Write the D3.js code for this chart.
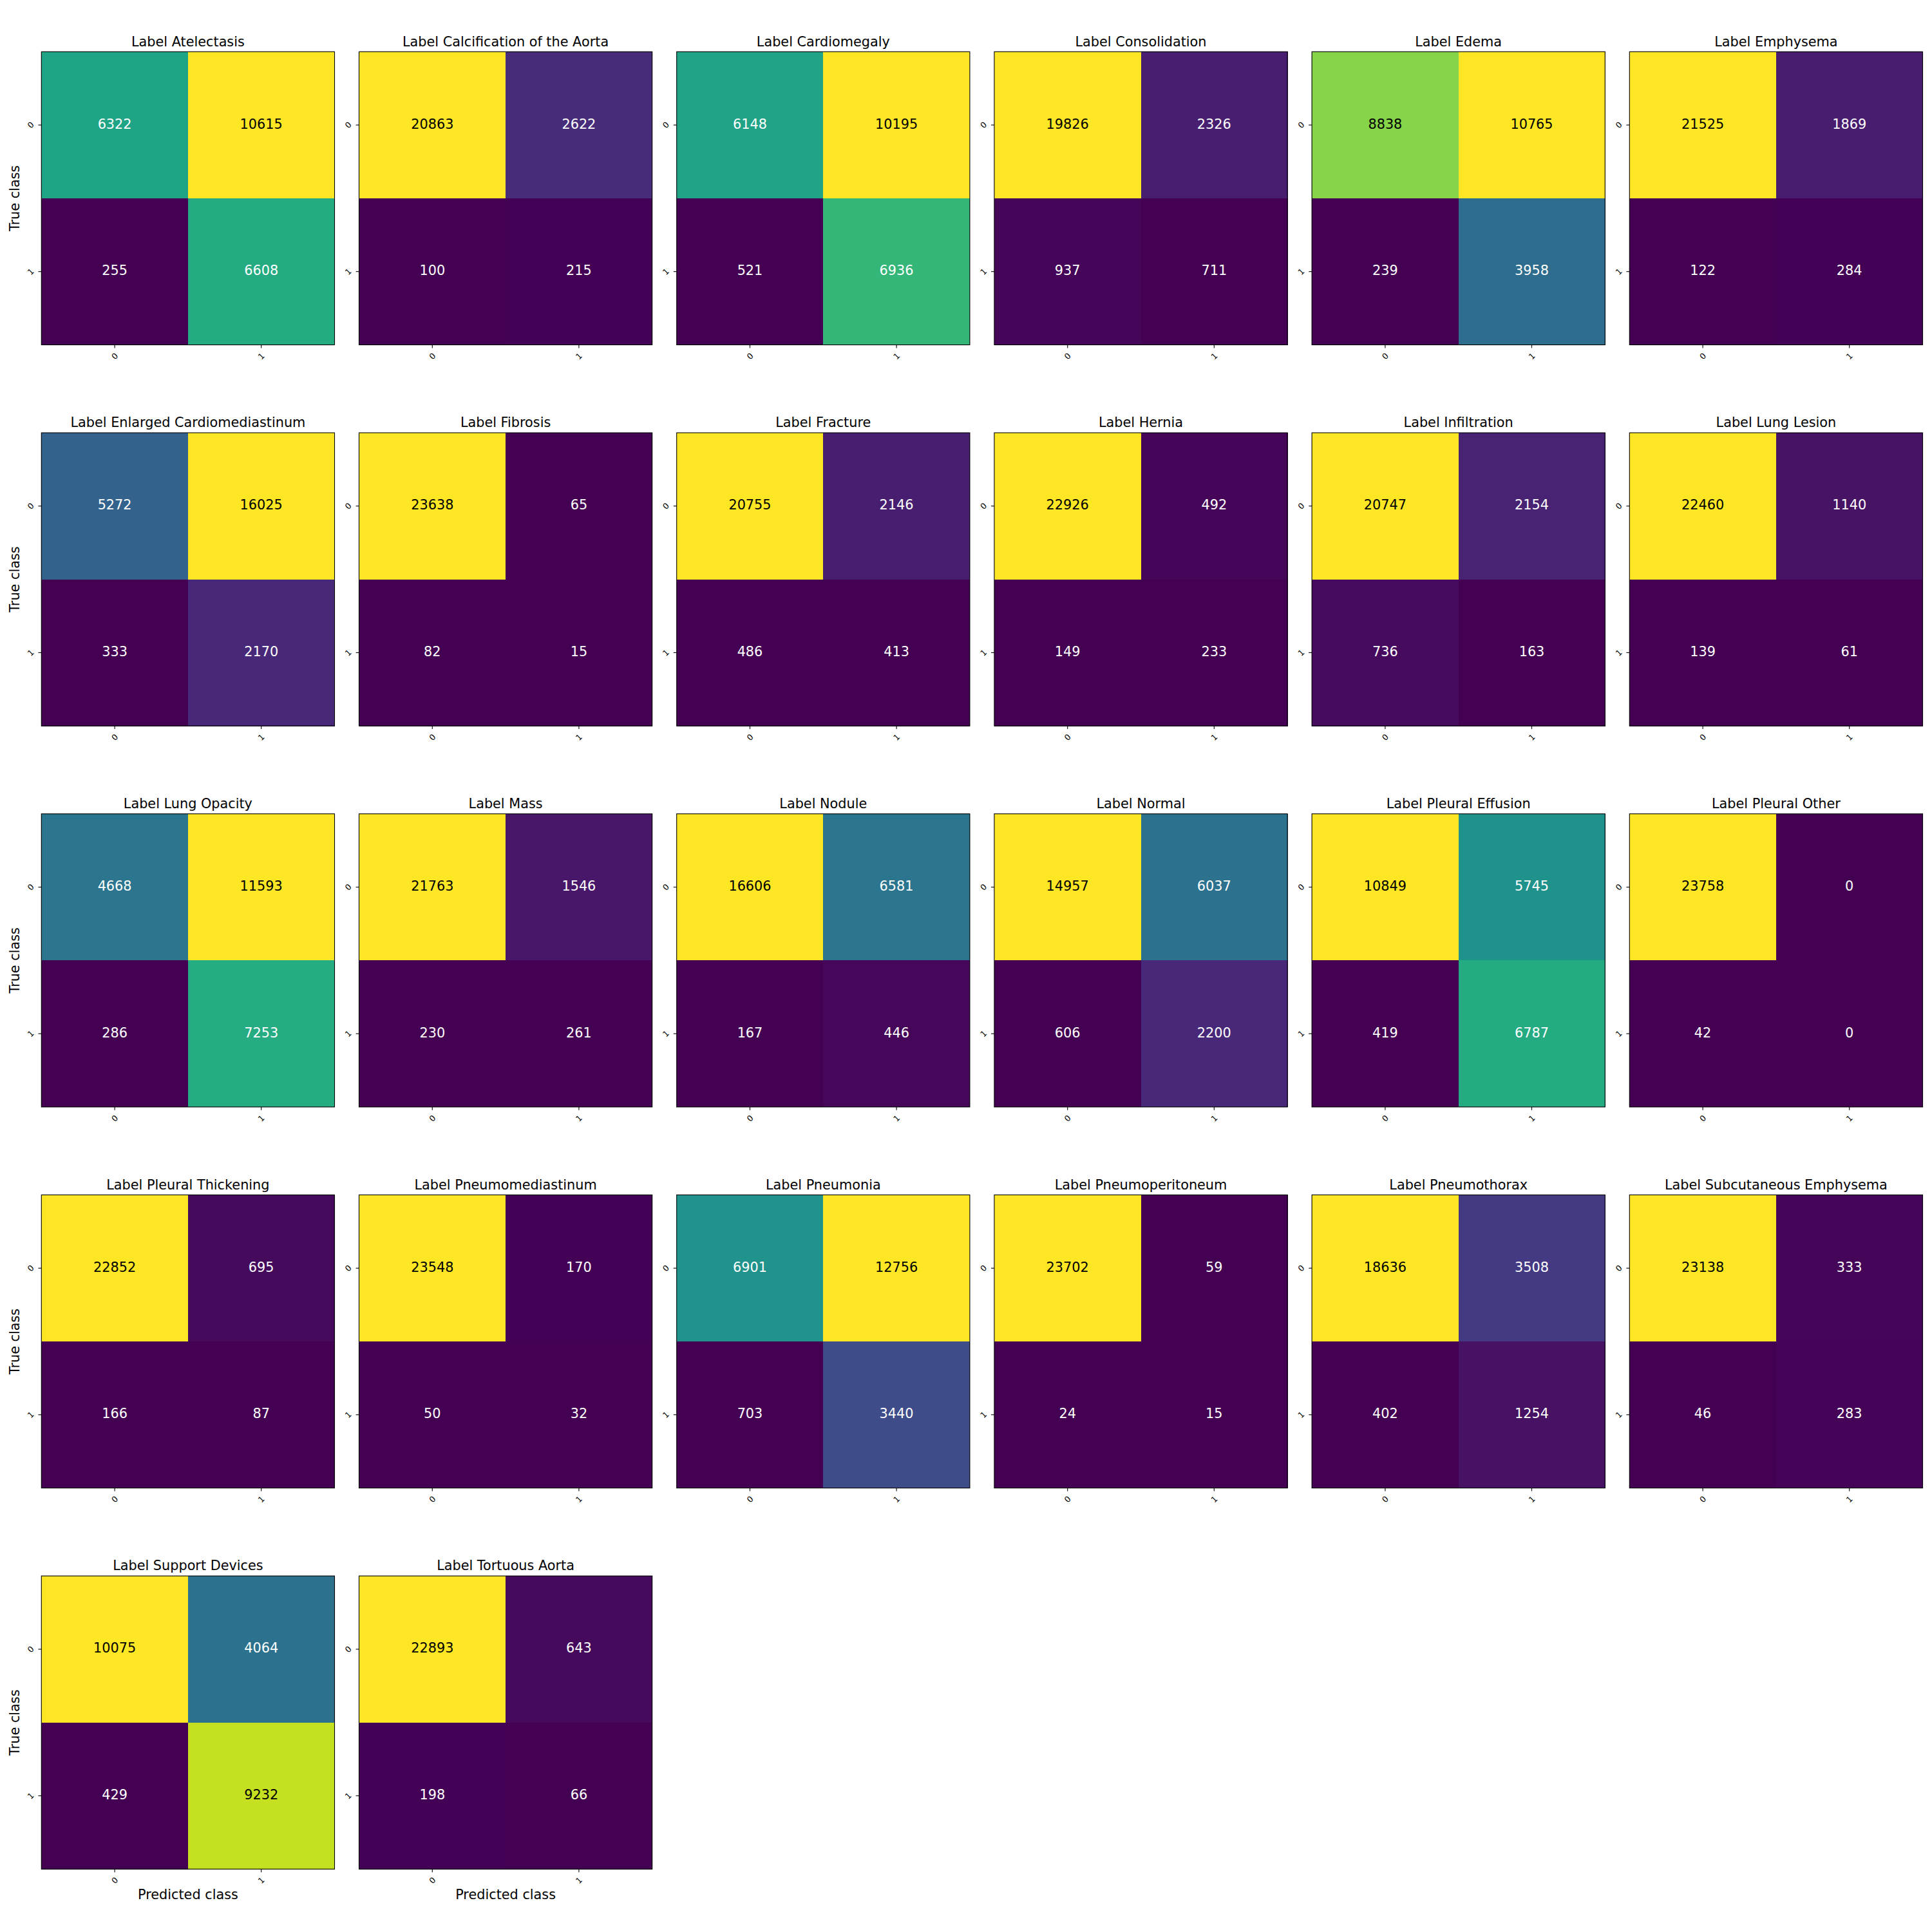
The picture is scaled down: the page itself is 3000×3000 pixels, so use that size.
<!DOCTYPE html>
<html>
<head>
<meta charset="utf-8">
<script src="https://cdn.jsdelivr.net/npm/d3@7"></script>
<style>
  html, body { margin: 0; padding: 0; background: #fff; }
  svg { display: block; font-family: "DejaVu Sans", sans-serif; }
</style>
</head>
<body>
<script>
// ---------- data ----------
const labels = [
  "Atelectasis", "Calcification of the Aorta", "Cardiomegaly", "Consolidation", "Edema", "Emphysema",
  "Enlarged Cardiomediastinum", "Fibrosis", "Fracture", "Hernia", "Infiltration", "Lung Lesion",
  "Lung Opacity", "Mass", "Nodule", "Normal", "Pleural Effusion", "Pleural Other",
  "Pleural Thickening", "Pneumomediastinum", "Pneumonia", "Pneumoperitoneum", "Pneumothorax", "Subcutaneous Emphysema",
  "Support Devices", "Tortuous Aorta"
];
// true 0 / predicted 0
const trueNeg  = [6322, 20863, 6148, 19826, 8838, 21525, 5272, 23638, 20755, 22926, 20747, 22460, 4668, 21763, 16606, 14957, 10849, 23758, 22852, 23548, 6901, 23702, 18636, 23138, 10075, 22893];
// true 0 / predicted 1
const falsePos = [10615, 2622, 10195, 2326, 10765, 1869, 16025, 65, 2146, 492, 2154, 1140, 11593, 1546, 6581, 6037, 5745, 0, 695, 170, 12756, 59, 3508, 333, 4064, 643];
// true 1 / predicted 0
const falseNeg = [255, 100, 521, 937, 239, 122, 333, 82, 486, 149, 736, 139, 286, 230, 167, 606, 419, 42, 166, 50, 703, 24, 402, 46, 429, 198];
// true 1 / predicted 1
const truePos  = [6608, 215, 6936, 711, 3958, 284, 2170, 15, 413, 233, 163, 61, 7253, 261, 446, 2200, 6787, 0, 87, 32, 3440, 15, 1254, 283, 9232, 66];
const classTicks = ["0", "1"];
const titlePrefix = "Label ";
const xLabelText = "Predicted class";
const yLabelText = "True class";

// ---------- layout ----------
const W = 3000, H = 3000;
const nCols = 6;
const nRows = Math.ceil(labels.length / nCols);
const x0 = 64.3, y0 = 80.3, dx = 493.2, dy = 591.7, size = 455.2;
const fs = 20.8, tickFs = 12.5, tickLen = 4.9, lw = 1.1;

const svg = d3.select("body").append("svg").attr("width", W).attr("height", H);
svg.append("rect").attr("width", W).attr("height", H).attr("fill", "#fff");

const band = d3.scaleBand().domain(classTicks).range([0, size]);

labels.forEach((lab, i) => {
  const c = i % nCols, r = Math.floor(i / nCols);
  const g = svg.append("g").attr("transform", `translate(${x0 + c * dx},${y0 + r * dy})`);
  const cells = [
    {t: "0", p: "0", v: trueNeg[i]},
    {t: "0", p: "1", v: falsePos[i]},
    {t: "1", p: "0", v: falseNeg[i]},
    {t: "1", p: "1", v: truePos[i]}
  ];
  const ext = d3.extent(cells, d => d.v);
  const dom = ext[0] === ext[1] ? [ext[0], ext[0] + 1] : ext;
  const color = d3.scaleSequential(d3.interpolateViridis).domain(dom);
  const norm = d3.scaleLinear().domain(dom).range([0, 1]);

  g.selectAll("rect.cell").data(cells).enter().append("rect")
    .attr("class", "cell")
    .attr("x", d => band(d.p))
    .attr("y", d => band(d.t))
    .attr("width", band.bandwidth() + 0.5)
    .attr("height", band.bandwidth() + 0.5)
    .attr("fill", d => color(d.v))
    .attr("shape-rendering", "crispEdges");

  g.selectAll("text.val").data(cells).enter().append("text")
    .attr("class", "val")
    .attr("x", d => band(d.p) + band.bandwidth() / 2)
    .attr("y", d => band(d.t) + band.bandwidth() / 2 + 5.6)
    .attr("text-anchor", "middle")
    .attr("font-size", fs)
    .attr("fill", d => norm(d.v) > 0.75 ? "#000" : "#fff")
    .text(d => d.v);

  // frame
  g.append("rect").attr("x", 0).attr("y", 0).attr("width", size).attr("height", size)
    .attr("fill", "none").attr("stroke", "#000").attr("stroke-width", lw);

  // x axis
  const xa = g.append("g").attr("transform", `translate(0,${size})`)
    .call(d3.axisBottom(band).tickSize(tickLen).tickSizeOuter(0).tickPadding(0));
  xa.select(".domain").remove();
  xa.selectAll(".tick line").attr("stroke", "#000").attr("stroke-width", lw);
  xa.selectAll(".tick text")
    .attr("y", 0).attr("dy", null)
    .attr("font-size", tickFs).attr("font-family", "DejaVu Sans").attr("fill", "#000")
    .attr("text-anchor", "middle").attr("dominant-baseline", "central")
    .attr("transform", "translate(0,17.5) rotate(-45)");

  // y axis
  const ya = g.append("g").call(d3.axisLeft(band).tickSize(tickLen).tickSizeOuter(0).tickPadding(0));
  ya.select(".domain").remove();
  ya.selectAll(".tick line").attr("stroke", "#000").attr("stroke-width", lw);
  ya.selectAll(".tick text")
    .attr("x", 0).attr("dy", null)
    .attr("font-size", tickFs).attr("font-family", "DejaVu Sans").attr("fill", "#000")
    .attr("text-anchor", "middle").attr("dominant-baseline", "central")
    .attr("transform", "translate(-16.8,0) rotate(-45)");

  // title
  g.append("text").attr("x", size / 2).attr("y", -8.8)
    .attr("text-anchor", "middle").attr("font-size", fs).attr("fill", "#000")
    .text(titlePrefix + lab);

  if (c === 0) {
    g.append("text")
      .attr("transform", `translate(${-(x0 - 23)},${size / 2}) rotate(-90)`)
      .attr("text-anchor", "middle").attr("dominant-baseline", "central")
      .attr("font-size", fs).attr("fill", "#000")
      .text(yLabelText);
  }
  if (r === nRows - 1) {
    g.append("text").attr("x", size / 2).attr("y", size + 47)
      .attr("text-anchor", "middle").attr("font-size", fs).attr("fill", "#000")
      .text(xLabelText);
  }
});
</script>
</body>
</html>
